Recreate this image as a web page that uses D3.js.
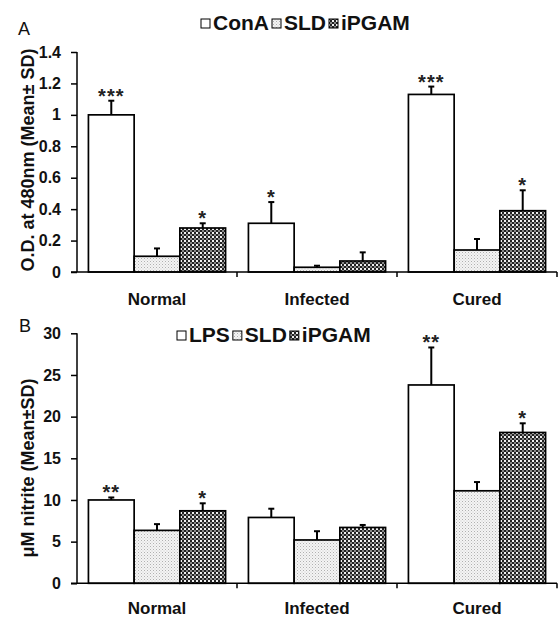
<!DOCTYPE html>
<html><head><meta charset="utf-8">
<script src="https://cdn.jsdelivr.net/npm/d3@7"></script>
<style>body{margin:0;background:#fff;} text{font-family:"Liberation Sans",Arial,sans-serif;}</style>
</head><body><svg id="c" width="559" height="617"></svg>
<script>
const categories = ["Normal", "Infected", "Cured"];

// Panel A : O.D. at 480nm
const seriesA = ["ConA", "SLD", "iPGAM"];
const conA = [1.00, 0.31, 1.13];
const conA_sd = [0.09, 0.135, 0.05];
const sldA = [0.10, 0.03, 0.14];
const sldA_sd = [0.05, 0.01, 0.07];
const ipgamA = [0.28, 0.07, 0.39];
const ipgamA_sd = [0.03, 0.055, 0.13];
const conA_stars = ["***", "*", "***"];
const sldA_stars = ["", "", ""];
const ipgamA_stars = ["*", "", "*"];
const ticksA = [0, 0.2, 0.4, 0.6, 0.8, 1, 1.2, 1.4];

// Panel B : µM nitrite
const seriesB = ["LPS", "SLD", "iPGAM"];
const lpsB = [10.0, 7.9, 23.8];
const lpsB_sd = [0.3, 1.05, 4.5];
const sldB = [6.35, 5.2, 11.1];
const sldB_sd = [0.75, 1.05, 1.05];
const ipgamB = [8.7, 6.7, 18.1];
const ipgamB_sd = [0.9, 0.3, 1.1];
const lpsB_stars = ["**", "", "**"];
const sldB_stars = ["", "", ""];
const ipgamB_stars = ["*", "", "*"];
const ticksB = [0, 5, 10, 15, 20, 25, 30];

const svg = d3.select("#c");
const defs = svg.append("defs");
// light dotted pattern
const pDot = defs.append("pattern").attr("id", "dots").attr("patternUnits", "userSpaceOnUse")
  .attr("width", 3).attr("height", 3);
pDot.append("rect").attr("width", 3).attr("height", 3).attr("fill", "#f4f4f4");
pDot.append("rect").attr("x", 0).attr("y", 0).attr("width", 1).attr("height", 1).attr("fill", "#b0b0b0");
pDot.append("rect").attr("x", 1.5).attr("y", 1.5).attr("width", 1).attr("height", 1).attr("fill", "#c8c8c8");
// checker pattern
const pChk = defs.append("pattern").attr("id", "check").attr("patternUnits", "userSpaceOnUse")
  .attr("width", 4).attr("height", 4);
pChk.append("rect").attr("width", 4).attr("height", 4).attr("fill", "#222");
pChk.append("rect").attr("x", 0).attr("y", 0).attr("width", 2).attr("height", 2).attr("fill", "#f0f0f0");
pChk.append("rect").attr("x", 2).attr("y", 2).attr("width", 2).attr("height", 2).attr("fill", "#888");

const fills = ["#ffffff", "url(#dots)", "url(#check)"];
const FONT = "Liberation Sans, Arial, sans-serif";

function panel(cfg) {
  const x = d3.scaleBand().domain(categories).range([cfg.x0, cfg.x1]).paddingInner(0).paddingOuter(0);
  const xs = d3.scaleBand().domain([0, 1, 2]).range([0, x.bandwidth()]).paddingOuter(0.25).paddingInner(0);
  const y = d3.scaleLinear().domain([0, cfg.max]).range([cfg.yb, cfg.yt]);
  const g = svg.append("g");

  cfg.series.forEach((s, si) => {
    categories.forEach((c, ci) => {
      const v = s.vals[ci], sd = s.sd[ci];
      const bx = x(c) + xs(si), bw = xs.bandwidth();
      const cx = bx + bw / 2;
      g.append("line").attr("x1", cx).attr("x2", cx).attr("y1", y(v)).attr("y2", y(v + sd))
        .attr("stroke", "#000").attr("stroke-width", 2);
      g.append("line").attr("x1", cx - 3).attr("x2", cx + 3).attr("y1", y(v + sd)).attr("y2", y(v + sd))
        .attr("stroke", "#000").attr("stroke-width", 2);
      g.append("rect").attr("x", bx).attr("y", y(v)).attr("width", bw).attr("height", y(0) - y(v))
        .attr("fill", fills[si]).attr("stroke", "#000").attr("stroke-width", 1.7);
      if (s.stars[ci]) {
        g.append("text").attr("x", cx).attr("y", y(v + sd) + 2).attr("text-anchor", "middle")
          .attr("font-size", 20).attr("font-weight", "bold").attr("letter-spacing", 1).attr("fill", "#222")
          .text(s.stars[ci]);
      }
    });
  });

  // y axis
  const ya = g.append("g").attr("transform", `translate(${cfg.x0},0)`)
    .call(d3.axisLeft(y).tickValues(cfg.ticks).tickSize(6).tickPadding(10).tickFormat(d => String(d)));
  ya.select(".domain").attr("d", `M0,${cfg.yb}V${cfg.yt}`).attr("stroke-width", 1.5);
  ya.selectAll(".tick line").attr("stroke-width", 1.5);
  ya.selectAll("text").attr("font-size", 16).attr("font-weight", "bold").attr("font-family", FONT).attr("fill", "#111");

  // x axis
  const xa = g.append("g").attr("transform", `translate(0,${cfg.yb})`)
    .call(d3.axisBottom(x).tickSize(0).tickPadding(cfg.labPad));
  xa.select(".domain").attr("d", `M${cfg.x0 - 6},0H${cfg.x1}`).attr("stroke-width", 1.5);
  xa.selectAll("text").attr("font-size", 17).attr("font-weight", "bold").attr("font-family", FONT).attr("fill", "#111");
  categories.forEach(c => {
    const bx = x(c) + x.bandwidth();
    g.append("line").attr("x1", bx).attr("x2", bx).attr("y1", cfg.yb).attr("y2", cfg.yb + 5)
      .attr("stroke", "#000").attr("stroke-width", 1.5);
  });

  // y title
  g.append("text").attr("transform", `translate(${cfg.titleX},${cfg.titleY}) rotate(-90)`)
    .attr("text-anchor", "middle").attr("font-size", 18).attr("font-weight", "bold").attr("fill", "#111")
    .text(cfg.title);
  // panel letter
  g.append("text").attr("x", cfg.letterX).attr("y", cfg.letterY).attr("font-size", 18).attr("fill", "#111").text(cfg.letter);

  // legend
  let lx = cfg.legX;
  cfg.series.forEach((s, si) => {
    g.append("rect").attr("x", lx).attr("y", cfg.legY - 11).attr("width", 9).attr("height", 9)
      .attr("fill", fills[si]).attr("stroke", "#000").attr("stroke-width", 1);
    const t = g.append("text").attr("x", lx + 12).attr("y", cfg.legY).attr("font-size", 21)
      .attr("font-weight", "bold").attr("fill", "#111").text(s.name);
    lx += 12 + t.node().getComputedTextLength() + 3;
  });
}

panel({
  x0: 77, x1: 557, yb: 272, yt: 52, max: 1.4, ticks: ticksA, labPad: 21,
  series: [
    {name: seriesA[0], vals: conA, sd: conA_sd, stars: conA_stars},
    {name: seriesA[1], vals: sldA, sd: sldA_sd, stars: sldA_stars},
    {name: seriesA[2], vals: ipgamA, sd: ipgamA_sd, stars: ipgamA_stars}
  ],
  title: "O.D. at 480nm (Mean± SD)", titleX: 34, titleY: 160,
  letter: "A", letterX: 18, letterY: 35, legX: 201, legY: 30
});

panel({
  x0: 77, x1: 557, yb: 583.3, yt: 333.3, max: 30, ticks: ticksB, labPad: 19,
  series: [
    {name: seriesB[0], vals: lpsB, sd: lpsB_sd, stars: lpsB_stars},
    {name: seriesB[1], vals: sldB, sd: sldB_sd, stars: sldB_stars},
    {name: seriesB[2], vals: ipgamB, sd: ipgamB_sd, stars: ipgamB_stars}
  ],
  title: "μM nitrite (Mean±SD)", titleX: 34, titleY: 468,
  letter: "B", letterX: 19, letterY: 332, legX: 177, legY: 342
});
</script></body></html>
